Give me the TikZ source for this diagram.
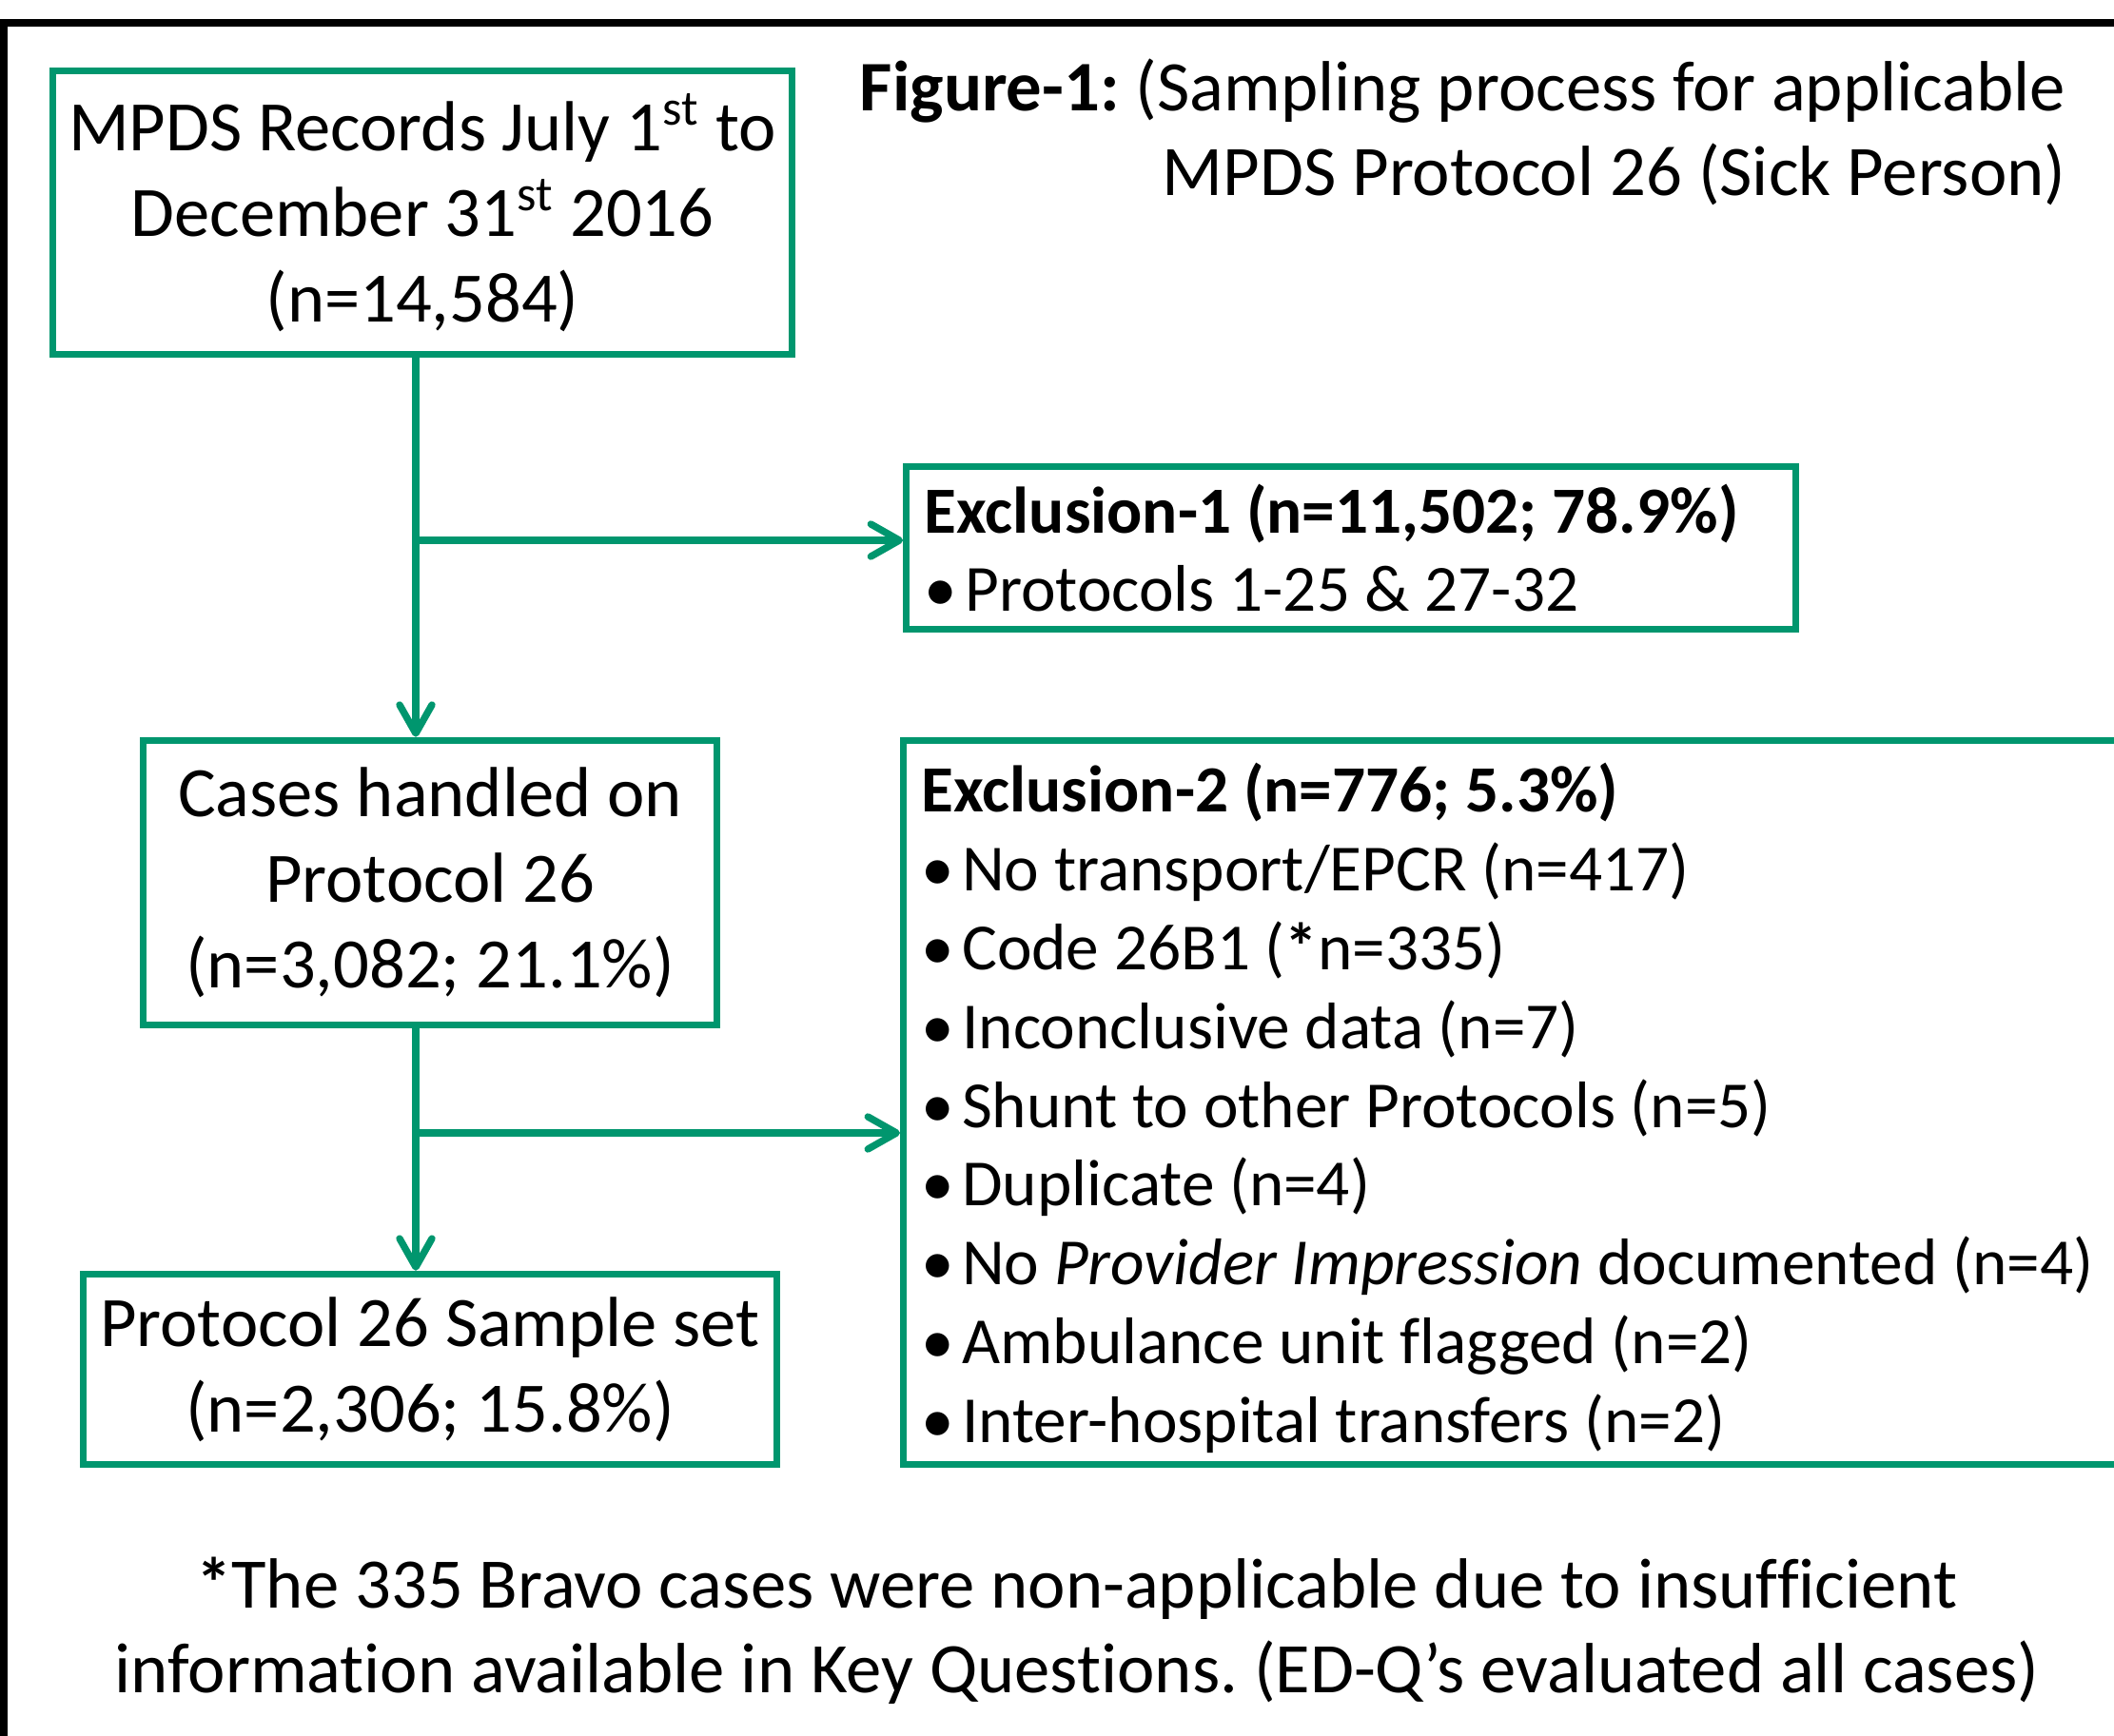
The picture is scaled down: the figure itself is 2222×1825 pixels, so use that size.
\documentclass[tikz,border=0pt]{standalone}
\usepackage{fontspec}
\setmainfont{Carlito}[Ligatures=NoCommon]
\usepackage{tikz}
\usetikzlibrary{arrows.meta, positioning, calc}
\definecolor{mpds-green}{HTML}{00966E}
\newcommand\itm{\makebox[12.1pt][l]{•}}
\frenchspacing

\begin{document}
\begin{tikzpicture}[x=0.01cm, y=-0.01cm,
    box/.style={draw=mpds-green, line width=2.1pt, inner sep=0pt, align=flush center,
                font=\fontsize{21.2}{25.6}\selectfont},
    exbox/.style={box, align=flush left, inner xsep=0.19cm,
                  font=\fontsize{19.7}{23.55}\selectfont},
    link/.style={draw=mpds-green, line width=2.1pt,
                 -{Straight Barb[length=0.3cm, width=0.34cm, line cap=round, line join=round]}},
    txt/.style={inner sep=0pt, font=\fontsize{21.25}{25.4}\selectfont}]
  \useasboundingbox (0,0) rectangle (2222,1825);
  \draw[line width=2.4pt] (4,1900) -- (4,24) -- (2300,24);

  % boxes of the main flow
  \node[box, minimum width=7.77cm, minimum height=2.98cm] (records) at (444,223.5)
    {MPDS Records July 1\textsuperscript{st} to\\ December 31\textsuperscript{st} 2016\\ (n=14,584)};
  \node[box, minimum width=6.03cm, minimum height=2.99cm] (cases) at (452,928)
    {Cases handled on\\ Protocol 26\\ (n=3,082; 21.1\%)};
  \node[box, minimum width=7.29cm, minimum height=2.00cm] (sample) at (452,1439.5)
    {Protocol 26 Sample set\\ (n=2,306; 15.8\%)};

  % exclusions
  \node[exbox, text width=8.96cm, minimum height=1.71cm] (excl1) at (1420,576)
    {\textbf{Exclusion-1 (n=11,502; 78.9\%)}\\
     \itm Protocols 1-25 \& 27-32};
  \node[exbox, text width=12.69cm, minimum height=7.61cm] (excl2) at (1603.5,1159)
    {\rule{0pt}{18pt}\textbf{Exclusion-2 (n=776; 5.3\%)}\\
     \itm No transport/EPCR (n=417)\\
     \itm Code 26B1 (\textbf{*}n=335)\\
     \itm Inconclusive data (n=7)\\
     \itm Shunt to other Protocols (n=5)\\
     \itm Duplicate (n=4)\\
     \itm No \textit{Provider Impression} documented (n=4)\\
     \itm Ambulance unit flagged (n=2)\\
     \itm Inter-hospital transfers (n=2)};

  % connectors
  \coordinate (spine) at (437,0);
  \coordinate (split1) at (437,568);
  \coordinate (split2) at (437,1191);
  \draw[link] (spine |- records.south) -- (spine |- cases.north);
  \draw[link] (spine |- cases.south) -- (spine |- sample.north);
  \draw[link] (split1) -- (split1 -| excl1.west);
  \draw[link] (split2) -- (split2 -| excl2.west);

  % caption and footnote
  \node[txt, anchor=east, align=flush right] (caption) at (2172,139)
    {\textbf{Figure-1:} (Sampling process for applicable\\ MPDS Protocol 26 (Sick Person)};
  \node[txt, align=flush center] (note) at (1132,1714)
    {\textbf{*}The 335 Bravo cases were non-applicable due to insufficient\\
     information available in Key Questions. (ED-Q’s evaluated all cases)};
\end{tikzpicture}
\end{document}
